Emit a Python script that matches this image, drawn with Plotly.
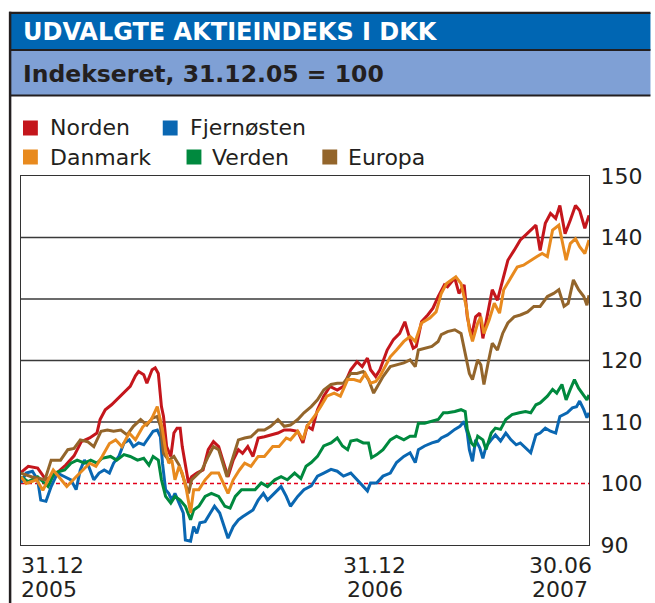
import pandas as pd
import plotly.graph_objects as go

# ---------------- data (days after 31.12.2005, index level) ----------------
base_date = "2005-12-31"
end_date = "2007-06-30"

norden_days = [0,7,16,24,33,43,51,58,66,73,76,81,87,92,99,105,110,113,118,121,126,129,132,135,137,140,144,147,150,153,
               155,158,161,164,169,175,180,185,190,194,199,204,209,213,218,223,228,234,240,247,253,259,266,271,275,280,285,291,297,304,
               310,317,323,328,333,336,341,345,352,358,364,369,374,377,380,385,391,396,401,407,410,417,421,426,429,433,437,441,444,448,
               453,458,463,468,474,480,485,490,495,499,504,509,514,518,523,528,533,537,542,546]
norden_vals = [101.8,102.8,102.5,100.6,101.5,103.0,104.5,106.8,107.4,108.2,110.4,112.0,112.8,113.6,114.7,115.8,117.5,118.2,117.7,116.3,
               118.5,118.8,117.9,112.5,110.9,106.0,104.4,108.2,109.0,109.0,106.0,102.8,100.1,101.1,101.7,102.2,105.5,106.8,106.0,103.8,
               101.1,103.8,105.5,104.9,106.0,104.4,107.4,107.6,107.9,108.2,108.7,108.7,108.5,106.6,109.3,108.8,112.0,114.2,115.8,115.2,
               115.8,118.5,119.8,119.0,120.4,118.5,117.4,118.5,121.7,123.4,124.4,126.3,123.4,122.0,122.3,126.3,127.4,128.5,130.4,132.3,
               132.0,133.4,130.9,132.3,127.1,123.9,127.1,127.7,123.6,127.1,131.5,129.8,133.1,136.3,137.9,139.6,140.4,141.2,142.0,137.9,
               142.3,143.9,143.1,145.2,140.6,142.8,145.2,144.4,141.5,143.6]

fjern_days = [0,5,11,16,19,24,29,35,42,48,53,57,61,65,70,75,80,85,89,94,99,104,108,113,118,123,127,131,134,136,
              139,142,145,148,152,156,158,163,166,169,172,177,182,186,191,196,199,204,209,213,218,223,228,233,237,244,250,255,259,266,
              272,279,285,291,298,304,310,317,323,328,333,336,342,348,355,361,368,374,379,382,388,395,401,404,410,417,422,426,429,431,
              434,437,441,444,447,452,456,461,466,471,476,480,485,490,495,499,504,509,514,518,525,530,534,537,541,544,546]
fjern_vals = [100.1,101.7,102.0,100.6,97.3,97.1,99.5,101.7,101.1,100.6,99.0,102.2,103.8,102.8,100.6,101.7,102.2,101.7,103.3,104.4,
              106.6,107.1,106.0,106.6,106.3,107.6,108.5,108.7,107.6,103.3,99.0,98.4,97.3,98.4,96.8,95.2,90.8,90.6,93.0,91.9,
              93.6,93.8,95.2,96.3,95.2,92.5,91.1,93.0,94.1,94.6,95.2,95.7,97.3,98.4,97.3,98.4,99.5,97.9,96.3,97.9,
              99.0,99.6,101.2,101.7,102.3,102.0,101.2,101.7,100.6,99.6,98.8,100.1,100.1,101.2,101.7,103.4,104.4,105.0,103.4,105.5,
              106.1,106.6,106.9,107.4,107.9,108.8,109.3,110.1,108.2,105.5,103.6,107.1,105.8,104.1,106.0,107.1,107.9,106.9,108.2,107.1,
              106.3,106.6,105.8,105.0,107.9,108.2,109.0,108.5,108.2,110.9,111.5,112.3,112.5,113.4,112.0,110.7,111.5]

danmark_days = [0,5,15,21,31,44,53,66,72,78,85,91,97,104,110,117,125,131,134,136,139,142,145,148,152,155,159,163,166,171,
                177,183,190,196,199,204,210,215,221,228,234,242,248,255,259,266,271,275,282,288,294,301,307,314,320,326,331,336,341,345,
                350,355,361,368,374,379,385,393,399,404,409,418,423,428,431,434,439,442,445,450,455,460,464,471,477,483,490,496,501,506,
                511,517,520,524,528,533,537,542,546]
danmark_vals = [101.1,100.0,100.6,98.9,102.2,99.5,101.1,103.3,102.8,104.4,106.5,107.1,106.0,108.2,107.1,109.2,110.3,112.5,110.3,108.7,
                105.5,103.3,103.8,100.6,102.8,101.7,99.0,95.2,99.0,99.0,100.6,101.7,101.7,99.5,98.4,100.6,102.2,103.3,102.8,104.4,
                104.4,106.0,106.0,107.4,107.1,108.5,107.1,109.3,110.9,112.5,114.2,114.7,114.2,116.9,116.9,116.6,117.9,116.3,116.6,117.4,
                119.0,120.6,121.7,123.1,123.9,123.1,126.1,126.9,127.9,130.9,132.5,133.6,132.5,128.8,125.0,123.1,126.1,127.1,124.4,126.6,
                129.3,127.7,131.5,133.6,135.2,135.5,136.3,136.9,137.4,136.9,141.2,142.0,139.6,136.3,139.0,139.8,138.5,137.4,139.6]

verden_days = [0,7,16,26,32,42,48,54,61,67,73,78,86,92,99,105,112,118,123,127,132,135,139,144,148,153,158,163,166,171,
               177,183,190,196,201,206,212,218,225,231,237,244,250,256,263,269,274,279,285,291,298,304,309,314,317,323,329,334,337,342,
               348,355,361,368,374,379,382,388,395,401,406,410,417,423,427,429,433,436,439,444,447,452,456,461,466,472,479,485,490,495,
               499,506,511,515,520,524,528,532,536,541,544,546]
verden_vals = [101.1,100.3,101.1,99.5,101.7,102.2,103.3,103.8,103.3,103.8,103.3,104.1,104.4,103.8,104.7,104.4,103.8,104.1,103.0,104.4,
               103.8,100.6,97.9,96.8,97.9,97.3,96.3,94.1,95.7,96.3,97.9,98.4,97.9,96.3,96.0,97.9,99.0,99.0,99.0,100.1,
               99.5,100.6,101.1,100.6,101.7,100.8,102.8,103.4,104.4,106.1,106.6,107.4,106.1,105.5,106.9,107.1,106.6,106.6,104.2,104.7,
               105.5,107.1,107.7,107.1,107.7,107.7,109.8,109.8,110.1,110.4,111.5,111.5,111.7,112.0,111.7,108.8,106.6,106.0,107.7,107.1,
               105.5,108.2,109.0,108.8,110.4,111.2,111.5,111.7,111.5,112.8,113.1,114.2,115.3,114.7,116.1,113.6,115.3,116.9,115.5,114.2,
               113.6,114.4]

europa_days = [0,10,23,29,38,45,51,57,64,70,77,83,89,96,102,108,115,121,126,131,134,137,142,147,152,156,161,164,169,174,
               180,185,190,194,198,202,209,215,221,228,234,240,247,253,259,266,272,279,285,291,298,304,310,317,323,329,334,339,344,348,
               355,361,368,374,379,382,388,395,401,404,410,417,423,428,431,434,439,442,445,449,453,458,463,468,474,480,487,493,499,506,
               512,517,522,526,531,536,541,544,546]
europa_vals = [101.7,101.1,100.6,103.8,103.8,105.5,105.7,107.1,106.8,106.0,108.5,108.7,108.5,108.7,107.9,109.3,110.4,109.5,110.6,110.9,
               109.3,104.9,103.8,104.4,103.0,101.1,98.4,100.6,101.4,102.2,104.4,106.0,105.5,103.3,101.1,103.3,107.1,107.4,107.6,108.7,
               108.7,109.3,110.4,109.3,109.5,110.4,111.5,112.5,113.6,115.2,116.1,116.3,116.3,117.9,117.9,118.2,116.9,114.7,116.3,117.4,
               119.0,119.3,119.6,120.1,119.0,121.7,122.0,122.3,123.1,124.2,124.7,125.0,124.4,120.6,117.9,116.9,120.1,119.3,116.1,119.6,
               122.8,121.7,124.4,126.1,127.1,127.4,127.9,128.8,128.8,130.4,130.9,131.5,128.8,129.3,133.1,131.5,130.4,129.0,130.6]

y_ticks = [90, 100, 110, 120, 130, 140, 150]
grid_levels = [110, 120, 130, 140]
base_level = 100
x_label_dates = ["31.12", "31.12", "30.06"]
x_label_years = ["2005", "2006", "2007"]

title_text = "UDVALGTE AKTIEINDEKS I DKK"
subtitle_text = "Indekseret, 31.12.05 = 100"

series = [
    ("Norden", norden_days, norden_vals, "#C4161C"),
    ("Fjernøsten", fjern_days, fjern_vals, "#0A67B2"),
    ("Verden", verden_days, verden_vals, "#00893E"),
    ("Europa", europa_days, europa_vals, "#93652B"),
    ("Danmark", danmark_days, danmark_vals, "#E88A1E"),
]
colors = {name: c for name, _, _, c in series}

# ---------------- layout geometry (pixels) ----------------
W, H = 655, 603
L, R, T, B = 21, 594, 176, 545
FONT = "DejaVu Sans, Verdana, sans-serif"
TXT = "#231F20"


def px(x):
    return (x - L) / (R - L)


def py(y):
    return (B - y) / (B - T)


fig = go.Figure()
base = pd.Timestamp(base_date)
for name, days, vals, col in series:
    assert len(days) == len(vals), name
    dates = base + pd.to_timedelta(days, unit="D")
    fig.add_trace(go.Scatter(x=dates, y=vals, name=name, mode="lines",
                             line=dict(color=col, width=3), showlegend=False))

shapes = []
# header bars
shapes.append(dict(type="rect", xref="paper", yref="paper", x0=px(10), x1=px(656), y0=py(50), y1=py(13),
                   fillcolor="#0066B3", line=dict(width=0), layer="above"))
shapes.append(dict(type="rect", xref="paper", yref="paper", x0=px(10), x1=px(656), y0=py(95.5), y1=py(50),
                   fillcolor="#7FA0D5", line=dict(width=0), layer="above"))
for yy, wdt in [(12.8, 2.2), (50, 2), (95.5, 2)]:
    shapes.append(dict(type="line", xref="paper", yref="paper", x0=px(9), x1=px(656), y0=py(yy), y1=py(yy),
                       line=dict(color=TXT, width=wdt), layer="above"))
shapes.append(dict(type="line", xref="paper", yref="paper", x0=px(10), x1=px(10), y0=py(11.8), y1=py(604),
                   line=dict(color=TXT, width=2.5), layer="above"))
# grid lines and base line
for g in grid_levels:
    shapes.append(dict(type="line", xref="paper", yref="y", x0=0, x1=1, y0=g, y1=g,
                       line=dict(color="#3A3A3A", width=1.3), layer="below"))
shapes.append(dict(type="line", xref="paper", yref="y", x0=0, x1=1, y0=base_level, y1=base_level,
                   line=dict(color="#E2001A", width=1.4, dash="4px,3px"), layer="below"))

annotations = []
annotations.append(dict(text="<b>" + title_text + "</b>", xref="paper", yref="paper", x=px(21), y=py(32),
                        xanchor="left", yanchor="middle", showarrow=False,
                        font=dict(family=FONT, size=24, color="white")))
annotations.append(dict(text="<b>" + subtitle_text + "</b>", xref="paper", yref="paper", x=px(21), y=py(73.5),
                        xanchor="left", yanchor="middle", showarrow=False,
                        font=dict(family=FONT, size=23.5, color=TXT)))

# manual legend: (name, square left x, text left x, row centre y)
legend_items = [("Norden", 23, 48, 128), ("Fjernøsten", 164, 189, 128),
                ("Danmark", 23, 48, 157), ("Verden", 188, 212, 157), ("Europa", 325, 349, 157)]
for name, sx, tx, cy in legend_items:
    shapes.append(dict(type="rect", xref="paper", yref="paper", x0=px(sx), x1=px(sx + 15),
                       y0=py(cy + 7.5), y1=py(cy - 7.5), fillcolor=colors[name], line=dict(width=0)))
    annotations.append(dict(text=name, xref="paper", yref="paper", x=px(tx), y=py(cy),
                            xanchor="left", yanchor="middle", showarrow=False,
                            font=dict(family=FONT, size=22, color=TXT)))

# x-axis labels (date line and year line)
for d_lab, y_lab, xc, anchor in zip(x_label_dates, x_label_years, [px(19), px(378), px(565)],
                                    ["left", "center", "center"]):
    for txt, yc in [(d_lab, 565.5), (y_lab, 589.5)]:
        annotations.append(dict(text=txt, xref="paper", yref="paper", x=xc, y=py(yc),
                                xanchor=anchor, yanchor="middle", showarrow=False,
                                font=dict(family=FONT, size=22, color=TXT)))

fig.update_layout(
    width=W, height=H, autosize=False,
    margin=dict(l=L, r=W - R, t=T, b=H - B, pad=0),
    paper_bgcolor="white", plot_bgcolor="white",
    shapes=shapes, annotations=annotations,
    xaxis=dict(type="date", range=[base_date, end_date], showgrid=False, showticklabels=False,
               showline=True, mirror=True, linecolor="#333333", linewidth=1.3, zeroline=False, ticks=""),
    yaxis=dict(side="right", range=[90, 150], tickvals=y_ticks, showgrid=False, zeroline=False,
               showline=True, mirror=True, linecolor="#333333", linewidth=1.3, ticks="",
               ticklabelstandoff=6, tickfont=dict(family=FONT, size=22, color=TXT)),
    hovermode=False,
)

fig.write_html("out.html", config={"displayModeBar": False},
               post_script="document.body.style.margin='0';document.body.style.overflow='hidden';")
